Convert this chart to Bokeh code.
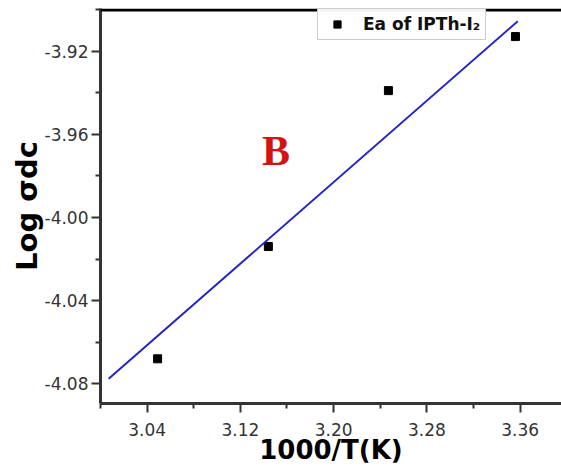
from bokeh.plotting import figure
from bokeh.models import (Range1d, FixedTicker, PrintfTickFormatter, Legend, LegendItem,
                          Label, Span, ColumnDataSource)
from bokeh.embed import file_html
from bokeh.resources import INLINE

# data
inv_T = [3.049, 3.144, 3.247, 3.356]
log_sigma = [-4.068, -4.014, -3.939, -3.913]
fit_x = [3.007, 3.358]
fit_y = [-4.0776, -3.9056]
x_ticks = [3.04, 3.12, 3.20, 3.28, 3.36]
y_ticks = [-4.08, -4.04, -4.00, -3.96, -3.92]
series_label = "Ea of IPTh-I₂"
panel_label = "B"

x_lo, x_hi = 3.0, 3.3955
y_lo, y_hi = -4.0895, -3.8995

p = figure(width=561, height=474, output_backend="svg", toolbar_location=None,
           x_range=Range1d(x_lo, x_hi), y_range=Range1d(y_lo, y_hi),
           min_border_left=100, min_border_right=0, min_border_top=8, min_border_bottom=71)
p.outline_line_color = None
p.xgrid.visible = False
p.ygrid.visible = False
p.background_fill_color = "white"
p.border_fill_color = "white"

src = ColumnDataSource(dict(x=inv_T, y=log_sigma))
pts = p.scatter("x", "y", source=src, marker="square", size=8, color="black")
p.line(fit_x, fit_y, line_color="#2424c4", line_width=2)

top = Span(location=y_hi - 0.0007, dimension="width", line_color="black", line_width=3)
p.add_layout(top)

minor_x = [3.00, 3.08, 3.16, 3.24, 3.32]
minor_y = [-4.06, -4.02, -3.98, -3.94, -3.90]
p.xaxis.ticker = FixedTicker(ticks=x_ticks, minor_ticks=minor_x)
p.yaxis.ticker = FixedTicker(ticks=y_ticks, minor_ticks=minor_y)
for ax in (p.xaxis[0], p.yaxis[0]):
    ax.formatter = PrintfTickFormatter(format="%.2f")
    ax.axis_line_width = 3
    ax.axis_line_color = "#333333"
    ax.major_tick_line_width = 2
    ax.major_tick_line_color = "#333333"
    ax.minor_tick_line_width = 2
    ax.minor_tick_line_color = "#333333"
    ax.major_tick_out = 9
    ax.major_tick_in = 0
    ax.minor_tick_out = 5
    ax.minor_tick_in = 0
    ax.major_label_text_font = "DejaVu Sans"
    ax.major_label_text_font_size = "17px"
    ax.major_label_text_color = "#333333"
    ax.axis_label_text_font = "DejaVu Sans"
    ax.axis_label_text_font_style = "bold"
    ax.axis_label_text_color = "black"

p.xaxis.axis_label = "1000/T(K)"
p.xaxis.axis_label_text_font_size = "26px"
p.xaxis.major_label_standoff = 10
p.xaxis.axis_label_standoff = -4
p.yaxis.axis_label = "Log σdc"
p.yaxis.axis_label_text_font_size = "29px"
p.yaxis.major_label_standoff = 3
p.yaxis.axis_label_standoff = -2

p.add_layout(Label(x=3.1506, y=-3.968, text=panel_label, text_align="center",
                   text_baseline="middle", text_font="Liberation Serif",
                   text_font_style="bold", text_font_size="42px", text_color="#d41414"))

legend = Legend(items=[LegendItem(label=series_label, renderers=[pts])],
                location=(217, 363), label_text_font="DejaVu Sans",
                label_text_font_size="17px", label_text_font_style="bold",
                label_text_color="#111111",
                border_line_color="#999999", border_line_width=1,
                padding=5, margin=0, glyph_width=28, glyph_height=18,
                label_standoff=12, spacing=0, label_height=19)
p.add_layout(legend, "center")

open("out.html", "w").write(file_html(p, INLINE))
